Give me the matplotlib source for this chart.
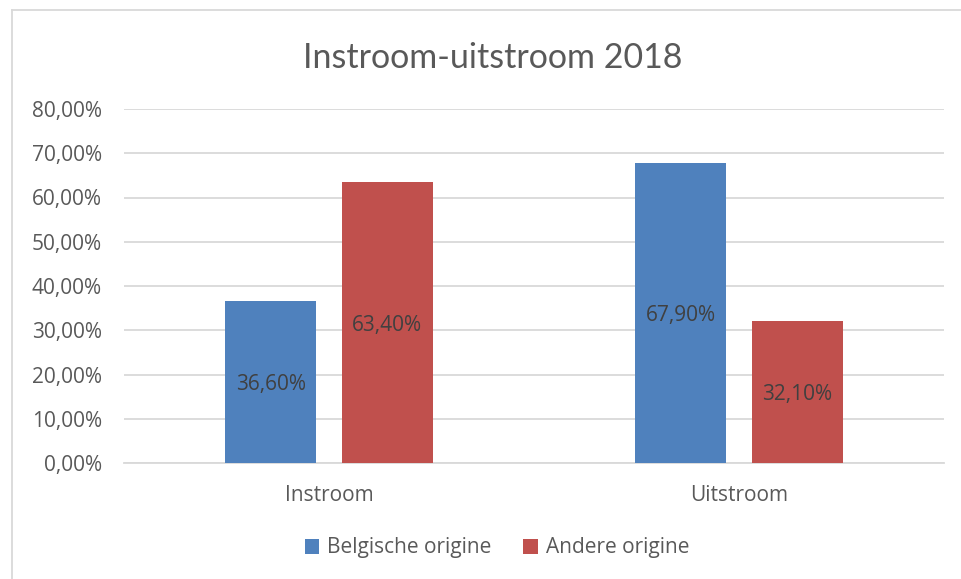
import matplotlib
matplotlib.use("Agg")
import matplotlib.pyplot as plt
from matplotlib.lines import Line2D
from matplotlib.ticker import FuncFormatter, MultipleLocator
import numpy as np

categories = ["Instroom", "Uitstroom"]
series_names = ["Belgische origine", "Andere origine"]
belgische = [36.60, 67.90]
andere = [63.40, 32.10]
colors = ["#4F81BD", "#C0504D"]

plt.rcParams['font.family'] = ['Open Sans', 'DejaVu Sans']

fig = plt.figure(figsize=(9.61, 5.79), dpi=100)
W, H = 961, 579
ax = fig.add_axes([124 / W, 1 - 463 / H, (944 - 124) / W, (463 - 109) / H])

x = np.arange(len(categories))
bw = 0.222
off = 0.1415
vals = [belgische, andere]
for i, (name, v) in enumerate(zip(series_names, vals)):
    pos = x + (-off if i == 0 else off)
    bars = ax.bar(pos, v, width=bw, color=colors[i], label=name, zorder=3)
    for b, val in zip(bars, v):
        ax.text(b.get_x() + b.get_width() / 2, val / 2,
                f"{val:.2f}".replace(".", ",") + "%",
                ha="center", va="center_baseline", fontsize=15, color="#404040", zorder=4)

ax.set_xlim(-0.5, 1.5)
ax.set_ylim(0, 80)
ax.yaxis.set_major_locator(MultipleLocator(10))
ax.yaxis.set_major_formatter(FuncFormatter(lambda v, p: f"{v:.2f}".replace(".", ",") + "%"))
ax.set_xticks(x)
ax.set_xticklabels(categories)
ax.grid(axis="y", color="#D9D9D9", linewidth=1.3, zorder=0)
for s in ["top", "right", "left"]:
    ax.spines[s].set_visible(False)
ax.spines["bottom"].set_color("#D9D9D9")
ax.spines["bottom"].set_linewidth(1.3)
ax.tick_params(axis="both", length=0, labelsize=15, colors="#595959")
ax.tick_params(axis="y", pad=16)
ax.tick_params(axis="x", pad=16)

fig.text(493 / W, 1 - 55 / H, "Instroom-uitstroom 2018", ha="center", va="center_baseline",
         fontsize=24.5, color="#595959", family=["Lato", "DejaVu Sans"])

leg = fig.legend(loc="center", bbox_to_anchor=(497 / W, 1 - 548 / H), ncol=2, frameon=False,
                 fontsize=15, handlelength=0.7, handleheight=0.7, handletextpad=0.4,
                 columnspacing=1.5, labelcolor="#595959")

# outer chart border
fig.add_artist(Line2D([12 / W, 1], [1 - 10 / H, 1 - 10 / H], color="#D9D9D9", linewidth=1.3, transform=fig.transFigure))
fig.add_artist(Line2D([12 / W, 12 / W], [1 - 10 / H, 0], color="#D9D9D9", linewidth=1.3, transform=fig.transFigure))

fig.savefig("out.png", dpi=100)
